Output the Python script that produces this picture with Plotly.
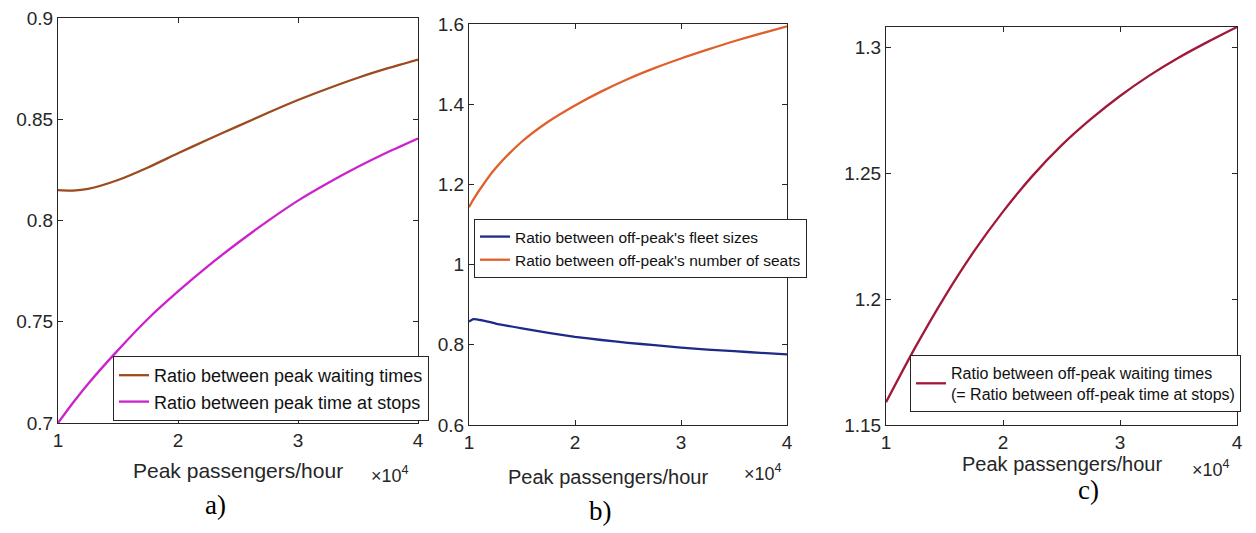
import plotly.graph_objects as go

# ---------------- data (x in units of 10^4 passengers/hour) ----------------
xa = [1.0, 1.125, 1.25, 1.5, 1.75, 2.0, 2.25, 2.5, 2.75, 3.0, 3.25, 3.5, 3.75, 4.0]
peak_waiting = [0.8150, 0.8148, 0.8156, 0.8200, 0.8262, 0.8332, 0.8400, 0.8466,
                0.8532, 0.8595, 0.8652, 0.8705, 0.8752, 0.8795]
peak_stops = [0.7000, 0.7100, 0.7193, 0.7360, 0.7515, 0.7650, 0.7775, 0.7890,
              0.7998, 0.8098, 0.8185, 0.8265, 0.8338, 0.8405]

xb = [1.0, 1.04, 1.125, 1.25, 1.5, 1.75, 2.0, 2.25, 2.5, 2.75, 3.0, 3.25, 3.5, 3.75, 4.0]
fleet_sizes = [0.858, 0.864, 0.861, 0.853, 0.841, 0.830, 0.820, 0.812, 0.805,
               0.799, 0.793, 0.788, 0.784, 0.780, 0.776]
num_seats = [1.143, 1.162, 1.196, 1.240, 1.307, 1.357, 1.397, 1.432, 1.463,
             1.490, 1.514, 1.536, 1.557, 1.576, 1.594]

xc = [1.0, 1.25, 1.5, 1.75, 2.0, 2.25, 2.5, 2.75, 3.0, 3.25, 3.5, 3.75, 4.0]
offpeak_waiting = [1.1590, 1.1808, 1.2008, 1.2188, 1.2347, 1.2488, 1.2610, 1.2714,
                   1.2806, 1.2887, 1.2958, 1.3021, 1.3080]

x_ticks = [1, 2, 3, 4]
x_tick_text = ["1", "2", "3", "4"]
ya_ticks = [0.7, 0.75, 0.8, 0.85, 0.9]
ya_tick_text = ["0.7", "0.75", "0.8", "0.85", "0.9"]
yb_ticks = [0.6, 0.8, 1.0, 1.2, 1.4, 1.6]
yb_tick_text = ["0.6", "0.8", "1", "1.2", "1.4", "1.6"]
yc_ticks = [1.15, 1.2, 1.25, 1.3]
yc_tick_text = ["1.15", "1.2", "1.25", "1.3"]

x_title = "Peak passengers/hour"
panel_labels = ["a)", "b)", "c)"]

# ---------------- figure ----------------
W, H = 1256, 533
AX = "#262626"
SANS = "Liberation Sans, Arial, sans-serif"
SERIF = "Liberation Serif, Times New Roman, serif"

fig = go.Figure()

lw = 2.3
fig.add_trace(go.Scatter(x=xa, y=peak_waiting, mode="lines",
                         line=dict(color="#9c4a1e", width=lw, shape="spline", smoothing=0.8),
                         name="Ratio between peak waiting times", xaxis="x", yaxis="y", legend="legend"))
fig.add_trace(go.Scatter(x=xa, y=peak_stops, mode="lines",
                         line=dict(color="#cc22cc", width=lw, shape="spline", smoothing=0.8),
                         name="Ratio between peak time at stops", xaxis="x", yaxis="y", legend="legend"))
fig.add_trace(go.Scatter(x=xb, y=fleet_sizes, mode="lines",
                         line=dict(color="#1c2a88", width=lw, shape="spline", smoothing=0.6),
                         name="Ratio between off-peak's fleet sizes", xaxis="x2", yaxis="y2", legend="legend2"))
fig.add_trace(go.Scatter(x=xb, y=num_seats, mode="lines",
                         line=dict(color="#e0602c", width=lw, shape="spline", smoothing=0.8),
                         name="Ratio between off-peak's number of seats", xaxis="x2", yaxis="y2", legend="legend2"))
fig.add_trace(go.Scatter(x=xc, y=offpeak_waiting, mode="lines",
                         line=dict(color="#a2183a", width=lw, shape="spline", smoothing=0.8),
                         name="Ratio between off-peak waiting times<br>(= Ratio between off-peak time at stops)",
                         xaxis="x3", yaxis="y3", legend="legend3"))


def px_x(p):
    return p / W


def px_y(p):
    return 1 - p / H


def axis_common():
    return dict(showgrid=False, zeroline=False, showline=True, linecolor=AX, linewidth=1,
                mirror="ticks", ticks="inside", ticklen=5, tickcolor=AX, tickwidth=1,
                automargin=False,
                tickfont=dict(family=SANS, size=19, color=AX))


panels = [
    # (x0, x1, ytop, ybot) in pixels
    (58, 418, 18, 423),
    (469, 787, 24, 425),
    (886, 1237, 27, 425),
]
yranges = [[0.7, 0.9], [0.6, 1.6], [1.15, 1.308]]
yticks = [(ya_ticks, ya_tick_text), (yb_ticks, yb_tick_text), (yc_ticks, yc_tick_text)]

layout = dict(width=W, height=H, autosize=False,
              margin=dict(l=0, r=0, t=0, b=0, pad=0, autoexpand=False),
              paper_bgcolor="white", plot_bgcolor="white", showlegend=True)

for i, ((x0, x1, yt, yb), yr, (tv, tt)) in enumerate(zip(panels, yranges, yticks)):
    sfx = "" if i == 0 else str(i + 1)
    xa_d = axis_common()
    xa_d.update(domain=[px_x(x0), px_x(x1)], range=[1, 4], tickvals=x_ticks, ticktext=x_tick_text,
                anchor="y" + sfx)
    ya_d = axis_common()
    ya_d.update(domain=[px_y(yb), px_y(yt)], range=yr, tickvals=tv, ticktext=tt,
                anchor="x" + sfx)
    layout["xaxis" + sfx] = xa_d
    layout["yaxis" + sfx] = ya_d

leg_common = dict(bgcolor="white", bordercolor=AX, borderwidth=1, xanchor="left", yanchor="top",
                  itemwidth=30, tracegroupgap=0, traceorder="normal")
layout["legend"] = dict(leg_common, x=px_x(113), y=px_y(356), font=dict(family=SANS, size=18, color="#111111"))
layout["legend2"] = dict(leg_common, x=px_x(474), y=px_y(219), font=dict(family=SANS, size=15.5, color="#111111"))
layout["legend3"] = dict(leg_common, x=px_x(910), y=px_y(355), font=dict(family=SANS, size=16, color="#111111"))

fig.update_layout(**layout)

# axis titles, exponent labels and panel labels
title_pos = [(238, 470, 21), (608, 477, 20), (1062, 464, 20)]
exp_pos = [(390, 474), (763, 472), (1211, 469)]
lab_pos = [(215, 505), (600, 511), (1088, 490)]
for (tx, ty, fs), (ex, ey), (lx, ly), lab in zip(title_pos, exp_pos, lab_pos, panel_labels):
    fig.add_annotation(x=px_x(tx), y=px_y(ty), xref="paper", yref="paper", text=x_title, showarrow=False,
                       xanchor="center", yanchor="middle", font=dict(family=SANS, size=fs, color=AX))
    fig.add_annotation(x=px_x(ex), y=px_y(ey), xref="paper", yref="paper", text="\u00d710<sup>4</sup>",
                       showarrow=False, xanchor="center", yanchor="middle", font=dict(family=SANS, size=18, color=AX))
    fig.add_annotation(x=px_x(lx), y=px_y(ly), xref="paper", yref="paper", text=lab, showarrow=False,
                       xanchor="center", yanchor="middle", font=dict(family=SERIF, size=27, color="#000000"))

fig.write_html("out.html")
